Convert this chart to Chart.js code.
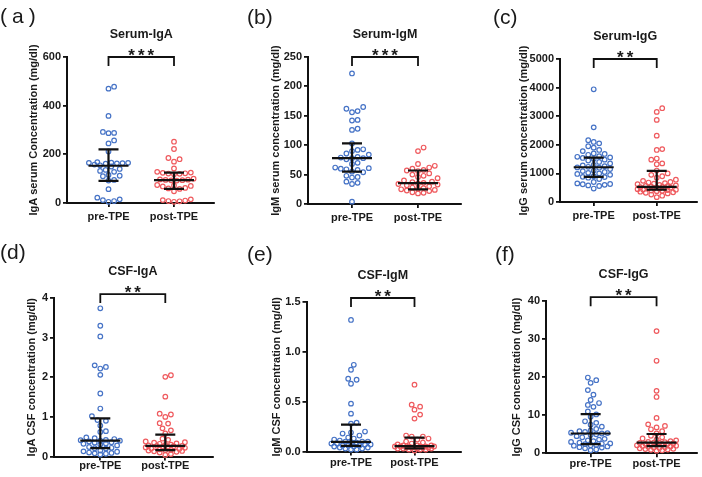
<!DOCTYPE html>
<html><head><meta charset="utf-8">
<script src="https://cdn.jsdelivr.net/npm/chart.js@4.4.1/dist/chart.umd.min.js"></script>
<style>
html,body{margin:0;padding:0;background:#fff;}
#wrap{position:relative;width:702px;height:477px;overflow:hidden;background:#fff;}
#wrap canvas{position:absolute;}
.lab{position:absolute;font-family:'Liberation Sans',Arial,sans-serif;font-size:21px;color:#1a1a1a;line-height:1;white-space:pre;}
</style></head><body>
<div id="wrap"></div>
<script>
// ---------------- DATA ----------------
const groups = ['pre-TPE', 'post-TPE'];
const panelLabels = ['(a)', '(b)', '(c)', '(d)', '(e)', '(f)'];
const titles = ['Serum-IgA', 'Serum-IgM', 'Serum-IgG', 'CSF-IgA', 'CSF-IgM', 'CSF-IgG'];
const yTitles = ['IgA serum Concentration (mg/dl)', 'IgM serum concentration (mg/dl)', 'IgG serum concentration (mg/dl)',
                 'IgA CSF concentration (mg/dl)', 'IgM CSF concentration (mg/dl)', 'IgG CSF concentration (mg/dl)'];
const significance = ['***', '***', '**', '**', '**', '**'];
const yMax = [600, 250, 5000, 4, 1.5, 40];
const yStep = [200, 50, 1000, 1, 0.5, 10];
const yDecimals = [0, 0, 0, 0, 1, 0];

const serumIgA_pre = [478, 470, 358, 292, 288, 287, 257, 245, 212, 168, 166, 165, 165, 164, 163, 162, 158, 155, 150, 140, 136, 132, 128, 115, 112, 110, 95, 92, 57, 22, 15, 12, 8, 5];
const serumIgA_post = [252, 222, 185, 180, 170, 142, 128, 125, 124, 122, 121, 120, 118, 100, 97, 96, 95, 94, 93, 92, 74, 72, 70, 68, 62, 60, 58, 48, 15, 12, 10, 8, 7, 5];
const serumIgM_pre = [222, 165, 162, 158, 156, 143, 142, 128, 126, 103, 93, 92, 90, 86, 84, 80, 79, 78, 78, 76, 70, 68, 62, 61, 60, 59, 58, 55, 54, 48, 46, 45, 38, 36, 34, 4];
const serumIgM_post = [96, 90, 68, 65, 62, 60, 58, 57, 56, 52, 50, 48, 46, 44, 40, 38, 37, 36, 35, 34, 33, 32, 30, 28, 27, 26, 25, 24, 23, 22, 20, 19, 18];
const serumIgG_pre = [3940, 2610, 2160, 2100, 2050, 1950, 1900, 1820, 1780, 1700, 1680, 1650, 1600, 1580, 1560, 1540, 1500, 1480, 1450, 1400, 1350, 1300, 1280, 1250, 1230, 1210, 1200, 1150, 1100, 1080, 1050, 1020, 1000, 980, 950, 900, 880, 870, 850, 800, 700, 650, 630, 620, 600, 580, 560, 470];
const serumIgG_post = [3280, 3150, 2870, 2320, 1850, 1820, 1520, 1480, 1350, 1320, 1100, 1000, 950, 900, 850, 780, 740, 700, 680, 660, 640, 620, 600, 580, 560, 550, 540, 530, 520, 510, 500, 490, 480, 470, 460, 450, 440, 430, 420, 400, 390, 380, 360, 340, 320, 300, 260, 220, 170];
const csfIgA_pre = [3.74, 3.30, 3.03, 2.30, 2.26, 2.22, 2.06, 1.59, 1.21, 1.02, 0.92, 0.90, 0.78, 0.64, 0.62, 0.48, 0.46, 0.44, 0.42, 0.41, 0.40, 0.40, 0.38, 0.36, 0.35, 0.33, 0.32, 0.30, 0.28, 0.24, 0.22, 0.21, 0.20, 0.15, 0.13, 0.12, 0.10, 0.09, 0.08, 0.07, 0.05];
const csfIgA_post = [2.05, 2.01, 1.51, 1.08, 1.06, 1.00, 0.84, 0.83, 0.71, 0.66, 0.58, 0.45, 0.42, 0.38, 0.36, 0.35, 0.33, 0.32, 0.30, 0.29, 0.28, 0.27, 0.27, 0.26, 0.25, 0.24, 0.23, 0.22, 0.20, 0.19, 0.18, 0.17, 0.16, 0.15, 0.14, 0.13, 0.12, 0.10, 0.06, 0.04];
const csfIgM_pre = [1.32, 0.87, 0.82, 0.73, 0.72, 0.68, 0.48, 0.38, 0.29, 0.28, 0.20, 0.19, 0.18, 0.16, 0.14, 0.13, 0.12, 0.11, 0.10, 0.10, 0.10, 0.09, 0.09, 0.08, 0.08, 0.07, 0.07, 0.06, 0.06, 0.06, 0.05, 0.05, 0.04, 0.04, 0.03, 0.03, 0.02, 0.02];
const csfIgM_post = [0.67, 0.47, 0.45, 0.42, 0.37, 0.33, 0.16, 0.15, 0.15, 0.13, 0.12, 0.10, 0.09, 0.08, 0.07, 0.06, 0.06, 0.06, 0.05, 0.05, 0.05, 0.05, 0.05, 0.05, 0.04, 0.04, 0.04, 0.04, 0.04, 0.03, 0.03, 0.03, 0.03, 0.02, 0.02, 0.02, 0.01];
const csfIgG_pre = [19.9, 19.2, 18.5, 16.6, 15.4, 14.0, 13.2, 12.7, 12.2, 11.0, 10.2, 9.6, 8.4, 8.0, 7.5, 7.0, 6.4, 6.0, 5.8, 5.6, 5.4, 5.3, 5.2, 5.0, 4.8, 4.5, 4.2, 3.8, 3.6, 3.4, 3.2, 3.0, 2.8, 2.6, 2.5, 2.4, 2.2, 2.1, 2.0, 1.8, 1.6, 1.5, 1.3, 1.0, 0.8];
const csfIgG_post = [32.1, 24.3, 16.4, 14.8, 9.3, 7.6, 7.2, 6.8, 6.3, 5.8, 5.2, 4.6, 4.2, 3.9, 3.6, 3.4, 3.2, 3.0, 2.9, 2.8, 2.8, 2.7, 2.6, 2.5, 2.5, 2.4, 2.3, 2.2, 2.1, 2.0, 1.9, 1.8, 1.7, 1.6, 1.5, 1.4, 1.3, 1.2, 1.1, 1.0, 0.9, 0.8, 0.7];

// median, lower quartile, upper quartile [pre, post]
const medians = [[153, 94], [78, 35.5], [1215, 526], [0.40, 0.27], [0.097, 0.053], [5.2, 2.8]];
const lowerQ = [[91, 58], [55, 25], [876, 430], [0.21, 0.16], [0.057, 0.03], [2.4, 1.9]];
const upperQ = [[220, 125], [103, 57], [1553, 1087], [0.96, 0.55], [0.27, 0.14], [10.3, 5.07]];
const bracketLevel = [600, 250, 5000, 4.1, 1.54, 41];

const seriesPre = [serumIgA_pre, serumIgM_pre, serumIgG_pre, csfIgA_pre, csfIgM_pre, csfIgG_pre];
const seriesPost = [serumIgA_post, serumIgM_post, serumIgG_post, csfIgA_post, csfIgM_post, csfIgG_post];

// ---------------- LAYOUT (pixels) ----------------
const LAYOUT = [
  {cx: 0,   cy: 0,   cw: 230, ch: 230, left: 67,  right: 214, top: 57,  bottom: 203, pre: 108.5, post: 174,   titleX: 34,  lab: [0, 4.5],   labSp: 5, tp: 3},
  {cx: 230, cy: 0,   cw: 240, ch: 230, left: 308, right: 461, top: 57,  bottom: 204, pre: 352,   post: 418,   titleX: 276, lab: [247, 5.5], labSp: 0, tp: 3},
  {cx: 470, cy: 0,   cw: 232, ch: 230, left: 560, right: 700, top: 59,  bottom: 202, pre: 594.5, post: 659,   titleX: 524, lab: [493, 5.5], labSp: 0, tp: 3},
  {cx: 0,   cy: 230, cw: 230, ch: 247, left: 54,  right: 213, top: 298, bottom: 456.5, pre: 100.3, post: 165.3, titleX: 32, lab: [0, 240.5], labSp: 0, tp: -1},
  {cx: 230, cy: 230, cw: 240, ch: 247, left: 306.5, right: 461, top: 302, bottom: 451.5, pre: 351, post: 414.5, titleX: 277, lab: [247, 242.5], labSp: 0, tp: 1},
  {cx: 470, cy: 230, cw: 232, ch: 247, left: 546, right: 697, top: 301, bottom: 453.3, pre: 590.7, post: 656.7, titleX: 517, lab: [495, 242.5], labSp: 0, tp: 0}
];
const BLUE = '#4673c6';
const RED = '#ef5a5e';
const FONT = "'Liberation Sans', Arial, sans-serif";
Chart.defaults.font.family = FONT;
Chart.defaults.color = '#1a1a1a';

// scatter-dot spreading (category units), computed from the values: slot grid, capped width
function swarm(vals, ymax, plotH, unitPx) {
  const d = 5.6, maxHalf = 21, slot = d / 2;
  const order = vals.map((v, i) => i).sort((a, b) => vals[a] - vals[b]);
  const placed = [];
  const out = new Array(vals.length).fill(0);
  const slots = [0];
  for (let k = 1; k * slot <= maxHalf + 0.01; k++) { slots.push(k * slot, -k * slot); }
  for (const i of order) {
    const py = vals[i] / ymax * plotH;
    const near = placed.filter(p => Math.abs(p.y - py) < d);
    let best = null, bestScore = -1;
    for (const s of slots) {
      let m = Infinity;
      near.forEach(p => { m = Math.min(m, Math.hypot(p.x - s, p.y - py)); });
      if (m >= d - 0.05) { best = s; break; }
      if (m > bestScore + 0.3) { bestScore = m; best = s; }
    }
    placed.push({x: best, y: py});
    out[i] = best / unitPx;
  }
  return out;
}

const panelPlugin = {
  id: 'panelDeco',
  afterDatasetsDraw(chart) {
    const i = chart.options.plugins.panelDeco.index;
    const ctx = chart.ctx, xs = chart.scales.x, ys = chart.scales.y;
    ctx.save();
    ctx.strokeStyle = '#111';
    ctx.lineCap = 'butt';
    for (let g = 0; g < 2; g++) {
      const cx = xs.getPixelForValue(g);
      const ym = ys.getPixelForValue(medians[i][g]);
      const y1 = ys.getPixelForValue(lowerQ[i][g]);
      const y3 = ys.getPixelForValue(upperQ[i][g]);
      ctx.lineWidth = 2.2;
      ctx.beginPath();
      ctx.moveTo(cx - 20, ym); ctx.lineTo(cx + 20, ym);
      ctx.moveTo(cx - 10, y1); ctx.lineTo(cx + 10, y1);
      ctx.moveTo(cx - 10, y3); ctx.lineTo(cx + 10, y3);
      ctx.moveTo(cx, y1); ctx.lineTo(cx, y3);
      ctx.stroke();
    }
    // bracket
    const bx0 = xs.getPixelForValue(0), bx1 = xs.getPixelForValue(1);
    const by = ys.getPixelForValue(bracketLevel[i]);
    ctx.lineWidth = 1.8;
    ctx.beginPath();
    ctx.moveTo(bx0, by + 9); ctx.lineTo(bx0, by); ctx.lineTo(bx1, by); ctx.lineTo(bx1, by + 9);
    ctx.stroke();
    const mid = (bx0 + bx1) / 2;
    ctx.fillStyle = '#1a1a1a';
    ctx.textAlign = 'center';
    ctx.textBaseline = 'alphabetic';
    ctx.font = 'bold 17px ' + FONT;
    try { ctx.letterSpacing = '3px'; } catch (e) {}
    ctx.fillText(significance[i], mid + 1.5, by + 3.5);
    try { ctx.letterSpacing = '0px'; } catch (e) {}
    ctx.font = 'bold 12.5px ' + FONT;
    ctx.textBaseline = 'middle';
    ctx.fillText(titles[i], mid, by - 22.5);
    ctx.restore();
  }
};

const wrap = document.getElementById('wrap');
for (let i = 0; i < 6; i++) {
  const L = LAYOUT[i];
  const cv = document.createElement('canvas');
  cv.width = L.cw; cv.height = L.ch;
  cv.style.left = L.cx + 'px'; cv.style.top = L.cy + 'px';
  cv.style.width = L.cw + 'px'; cv.style.height = L.ch + 'px';
  wrap.appendChild(cv);
  const lab = document.createElement('div');
  lab.className = 'lab';
  lab.textContent = panelLabels[i];
  lab.style.left = L.lab[0] + 'px'; lab.style.top = L.lab[1] + 'px';
  lab.style.letterSpacing = L.labSp + 'px';
  wrap.appendChild(lab);

  const unit = L.post - L.pre;
  const xmin = -(L.pre - L.left) / unit, xmax = 1 + (L.right - L.post) / unit;
  const plotH = L.bottom - L.top;
  const xh = (L.cy + L.ch) - L.bottom;
  const offPre = swarm(seriesPre[i], yMax[i], plotH, unit);
  const offPost = swarm(seriesPost[i], yMax[i], plotH, unit);
  const mk = (vals, offs, g) => vals.map((v, k) => ({x: g + offs[k], y: v}));
  new Chart(cv, {
    type: 'scatter',
    data: {
      datasets: [
        {data: mk(seriesPre[i], offPre, 0), borderColor: BLUE, backgroundColor: 'rgba(0,0,0,0)', pointRadius: 2.3, pointBorderWidth: 1.2, clip: false},
        {data: mk(seriesPost[i], offPost, 1), borderColor: RED, backgroundColor: 'rgba(0,0,0,0)', pointRadius: 2.3, pointBorderWidth: 1.2, clip: false}
      ]
    },
    options: {
      responsive: false, animation: false, devicePixelRatio: 1,
      layout: {padding: {left: 0, top: L.top - L.cy, right: (L.cx + L.cw) - L.right, bottom: 0}},
      plugins: {legend: {display: false}, tooltip: {enabled: false}, title: {display: false}, panelDeco: {index: i}},
      events: [],
      scales: {
        x: {
          type: 'linear', min: xmin, max: xmax,
          afterBuildTicks: s => { s.ticks = [{value: 0}, {value: 1}]; },
          afterFit: s => { s.height = xh; },
          grid: {display: true, drawOnChartArea: false, drawTicks: true, tickLength: 4, color: '#111', lineWidth: 1.8},
          border: {display: true, color: '#111', width: 2},
          ticks: {autoSkip: false, maxRotation: 0, padding: L.tp, font: {size: 11, weight: 'bold'}, color: '#1a1a1a',
                  callback: v => groups[v]}
        },
        y: {
          min: 0, max: yMax[i],
          afterBuildTicks: s => { const t = []; for (let v = 0; v <= yMax[i] + 1e-9; v += yStep[i]) t.push({value: +v.toFixed(4)}); s.ticks = t; },
          afterFit: s => { s.width = L.left - L.cx; },
          grid: {display: true, drawOnChartArea: false, drawTicks: true, tickLength: 4, color: '#111', lineWidth: 1.8},
          border: {display: true, color: '#111', width: 2},
          ticks: {padding: 2, font: {size: 11, weight: 'bold'}, color: '#1a1a1a',
                  callback: v => yDecimals[i] ? v.toFixed(yDecimals[i]) : String(v)},
          title: {display: true, text: yTitles[i], font: {size: 11, weight: 'bold'}, color: '#1a1a1a',
                  padding: {top: L.titleX - L.cx - 6.6, bottom: 0}}
        }
      }
    },
    plugins: [panelPlugin]
  });
}
</script>
</body></html>
